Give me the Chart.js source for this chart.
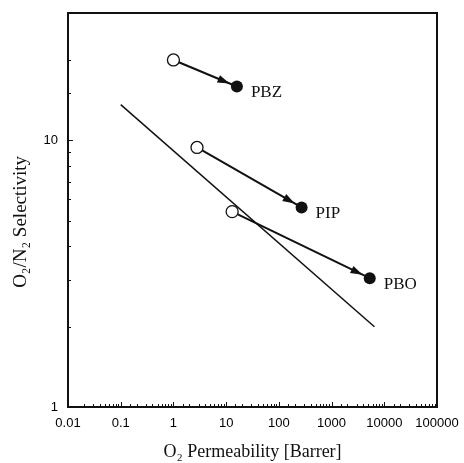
<!DOCTYPE html>
<html>
<head>
<meta charset="utf-8">
<script src="https://cdn.jsdelivr.net/npm/chart.js@4/dist/chart.umd.min.js"></script>
<style>
  html, body { margin: 0; padding: 0; background: #fff; }
  #wrap { width: 464px; height: 463px; }
</style>
</head>
<body>
<div id="wrap"><canvas id="chart" width="464" height="463"></canvas></div>
<script>
// polymer pairs: precursor (open) -> thermally rearranged (filled)
var polymers = ['PBZ', 'PIP', 'PBO'];
var beforePerm = [1, 2.8, 13];
var beforeSel = [20, 9.4, 5.4];
var afterPerm = [16, 270, 5300];
var afterSel = [15.9, 5.6, 3.04];

// upper bound line
var boundPerm = [0.1, 6500];
var boundSel = [13.6, 2.0];

var xTickLabels = ['0.01', '0.1', '1', '10', '100', '1000', '10000', '100000'];
var yTickLabels = ['1', '10'];

function decade(v) {
  var e = Math.round(Math.log10(v));
  if (Math.abs(Math.log10(v) - e) < 1e-6) return e;
  return null;
}

function noPad(scale) {
  scale.paddingLeft = 0;
  scale.paddingRight = 0;
  scale.paddingTop = 0;
  scale.paddingBottom = 0;
}

var datasets = [];

datasets.push({
  label: 'bound',
  data: boundPerm.map(function(p, i) { return {x: p, y: boundSel[i]}; }),
  showLine: true,
  borderColor: '#111',
  borderWidth: 1.5,
  pointRadius: 0,
  order: 3
});

for (var i = 0; i < polymers.length; i++) {
  datasets.push({
    label: polymers[i] + ' arrow',
    data: [{x: beforePerm[i], y: beforeSel[i]}, {x: afterPerm[i], y: afterSel[i]}],
    showLine: true,
    borderColor: '#111',
    borderWidth: 2,
    pointRadius: 0,
    order: 2
  });
}

datasets.push({
  label: 'before',
  data: beforePerm.map(function(p, i) { return {x: p, y: beforeSel[i]}; }),
  pointRadius: 6,
  pointBackgroundColor: '#fff',
  pointBorderColor: '#111',
  pointBorderWidth: 1.3,
  order: 1
});

datasets.push({
  label: 'after',
  data: afterPerm.map(function(p, i) { return {x: p, y: afterSel[i]}; }),
  pointRadius: 6,
  pointBackgroundColor: '#111',
  pointBorderColor: '#111',
  pointBorderWidth: 0,
  order: 1
});

// arrowheads, inward ticks, frame and polymer names
var decorPlugin = {
  id: 'decor',
  afterDatasetsDraw: function(chart) {
    var ctx = chart.ctx;
    var xs = chart.scales.x, ys = chart.scales.y;
    var area = chart.chartArea;
    ctx.save();

    // arrowheads
    ctx.fillStyle = '#111';
    for (var i = 0; i < polymers.length; i++) {
      var x0 = xs.getPixelForValue(beforePerm[i]), y0 = ys.getPixelForValue(beforeSel[i]);
      var x1 = xs.getPixelForValue(afterPerm[i]), y1 = ys.getPixelForValue(afterSel[i]);
      var a = Math.atan2(y1 - y0, x1 - x0);
      var tx = x1 - Math.cos(a) * 8, ty = y1 - Math.sin(a) * 8;
      var len = 12, w = 4;
      ctx.beginPath();
      ctx.moveTo(tx, ty);
      ctx.lineTo(tx - Math.cos(a) * len + Math.sin(a) * w, ty - Math.sin(a) * len - Math.cos(a) * w);
      ctx.lineTo(tx - Math.cos(a) * len - Math.sin(a) * w, ty - Math.sin(a) * len + Math.cos(a) * w);
      ctx.closePath();
      ctx.fill();

      ctx.font = '17px "Liberation Serif", "DejaVu Serif", serif';
      ctx.textBaseline = 'middle';
      ctx.fillText(polymers[i], x1 + 14, y1 + 6);
    }

    // ticks pointing inward
    ctx.strokeStyle = '#111';
    ctx.lineWidth = 1;
    xs.ticks.forEach(function(t) {
      var px = Math.round(xs.getPixelForValue(t.value)) + 0.5;
      var len = decade(t.value) !== null ? 5 : 3;
      ctx.beginPath();
      ctx.moveTo(px, area.bottom);
      ctx.lineTo(px, area.bottom - len);
      ctx.stroke();
    });
    ys.ticks.forEach(function(t) {
      var py = Math.round(ys.getPixelForValue(t.value)) + 0.5;
      var len = decade(t.value) !== null ? 5 : 3;
      ctx.beginPath();
      ctx.moveTo(area.left, py);
      ctx.lineTo(area.left + len, py);
      ctx.stroke();
    });

    // frame
    ctx.lineWidth = 2;
    ctx.strokeRect(area.left, area.top, area.right - area.left, area.bottom - area.top);
    ctx.restore();
  }
};

var ctx = document.getElementById('chart').getContext('2d');
var chart = new Chart(ctx, {
  type: 'scatter',
  data: { datasets: datasets },
  plugins: [decorPlugin],
  options: {
    responsive: false,
    animation: false,
    layout: { padding: { left: 0, right: 27, top: 13, bottom: 0 } },
    plugins: {
      legend: { display: false },
      tooltip: { enabled: false }
    },
    scales: {
      x: {
        type: 'logarithmic',
        min: 0.01,
        max: 100000,
        border: { display: false },
        grid: { display: false, drawTicks: false },
        afterFit: function(scale) { scale.height = 56; noPad(scale); },
        ticks: {
          autoSkip: false,
          maxRotation: 0,
          padding: 9,
          color: '#000',
          font: { family: '"Liberation Sans", Arial, sans-serif', size: 13 },
          callback: function(v) {
            var e = decade(v);
            return e === null ? '' : xTickLabels[e + 2];
          }
        },
        title: {
          display: true,
          text: 'O\u2082 Permeability [Barrer]',
          color: '#111',
          padding: { top: 4, bottom: 0 },
          font: { family: '"Liberation Serif", "DejaVu Serif", serif', size: 18 }
        }
      },
      y: {
        type: 'logarithmic',
        min: 1,
        max: 30,
        border: { display: false },
        grid: { display: false, drawTicks: false },
        afterFit: function(scale) { scale.width = 68; noPad(scale); },
        ticks: {
          autoSkip: false,
          padding: 10,
          color: '#000',
          font: { family: '"Liberation Sans", Arial, sans-serif', size: 13 },
          callback: function(v) {
            var e = decade(v);
            return (e === null || e > 1) ? '' : yTickLabels[e];
          }
        },
        title: {
          display: true,
          // trailing spaces push the rotated title down a little, as in the original
          text: 'O\u2082/N\u2082 Selectivity     ',
          color: '#111',
          padding: { top: 10, bottom: 2 },
          font: { family: '"Liberation Serif", "DejaVu Serif", serif', size: 19 }
        }
      }
    }
  }
});
</script>
</body>
</html>
